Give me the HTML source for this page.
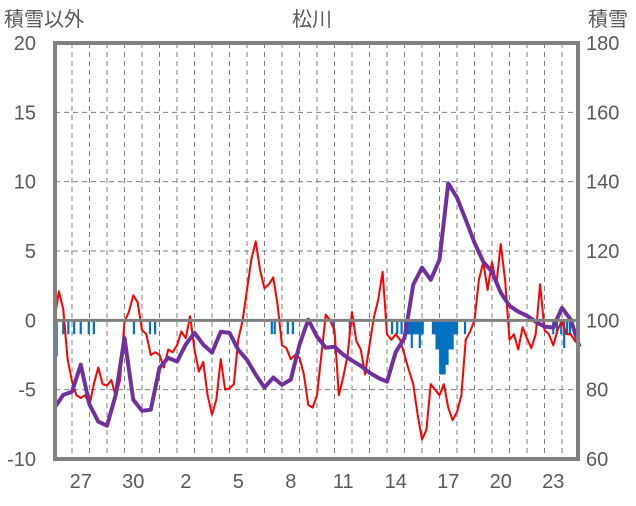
<!DOCTYPE html>
<html><head><meta charset="utf-8"><style>
body{margin:0;background:#fff;}
svg text{font-family:"Liberation Sans","Noto Sans CJK JP",sans-serif;fill:#595959;font-size:20px;}
</style></head><body>
<svg id="chart" width="636" height="501" xmlns="http://www.w3.org/2000/svg">
<text x="4" y="26">積雪以外</text>
<text x="312" y="26" text-anchor="middle">松川</text>
<text x="588" y="26">積雪</text>
<g id="grid"></g>
<g id="bars"></g>
<g id="lines"></g>
<g id="axes"></g>
</svg>
<script>
const xLabels = ["27","30","2","5","8","11","14","17","20","23"];
const xLabelDays = [1.5,4.5,7.5,10.5,13.5,16.5,19.5,22.5,25.5,28.5];
const leftTicks = [20,15,10,5,0,-5,-10];
const rightTicks = [180,160,140,120,100,80,60];
const redValues = [0.0,2.1,0.8,-2.8,-4.4,-5.4,-5.6,-5.4,-6.1,-4.6,-3.4,-4.6,-4.7,-4.3,-5.5,-4.3,-0.1,0.6,1.8,1.3,-0.7,-1.0,-2.5,-2.3,-2.5,-3.4,-2.1,-2.3,-1.8,-0.8,-1.3,0.3,-2.1,-3.7,-3.0,-5.4,-6.8,-5.7,-2.8,-5.0,-4.9,-4.6,-1.4,0.0,2.2,4.4,5.7,3.6,2.3,2.6,3.1,1.1,-1.8,-2.0,-2.8,-2.5,-2.7,-3.9,-6.1,-6.3,-5.4,-2.5,0.4,0.0,-0.7,-5.4,-4.1,-2.5,0.6,-1.5,-2.1,-3.9,-1.8,0.2,1.5,3.5,-1.0,-1.4,-1.0,-1.4,-2.5,-3.6,-4.6,-6.8,-8.6,-7.9,-4.6,-5.0,-5.4,-4.6,-6.3,-7.2,-6.6,-5.4,-1.4,-0.8,0.0,2.9,4.2,2.2,4.2,2.6,5.5,2.9,-1.4,-1.0,-2.1,-0.5,-1.3,-2.0,-1.0,2.6,-0.7,-1.0,-1.8,-0.7,0.0,-1.0,-1.0,-1.5,-1.8];
const redStepDays = 0.25;
const snowDepth = [74.8,78.5,79.4,87.2,75.7,70.8,69.6,78.5,94.9,77.1,73.9,74.2,86.3,89.2,88.1,93.0,96.4,93.0,90.7,96.7,96.4,91.5,88.6,84.3,80.6,83.5,81.4,82.9,93.0,100.2,95.3,92.1,92.4,90.1,88.4,86.9,84.9,83.4,82.3,90.9,94.9,110.3,115.2,111.7,117.5,139.5,135.4,129.0,122.4,116.9,114.0,108.0,104.2,102.5,101.3,99.6,98.2,97.9,103.6,100.2,92.4];
const snowStepDays = 0.5;
const barHours = [3,12,19,27,36,47,54,109,131,138,298,302,320,327,383,405,463,470,476,
481,482,483,484,485,486,487,488,489,490,491,492,493,494,495,496,497,498,499,500,501,502,503,504,505,
519,520,521,522,523,524,525,526,527,528,529,530,531,532,533,534,535,536,537,538,539,540,541,542,543,544,545,546,547,548,549,550,551,552,
563,684,689,695,699,703,707];
const barValues = [-2.6,-1,-1,-1,-1,-1,-1,-1,-1,-1,-1,-1,-1,-1,-1,-1,-1,-1,-1,
-1,-1,-1,-1,-1,-1,-1,-1,-1,-2,-1,-1,-1,-1,-1,-1,-1,-1,-1,-1,-2,-1,-1,-1,-1,
-1,-1,-1,-1,-1,-2.1,-2.1,-2.1,-2.1,-2.1,-3.9,-3.9,-3.9,-3.9,-3.9,-3.9,-3.9,-3.2,-3.2,-3.2,-3.2,-2.1,-2.1,-2.1,-2.1,-2.1,-2.1,-2.1,-1,-1,-1,-1,-1,-1,
-1,-1,-1,-1,-2,-1,-1];

const X0=54.5, DAY=17.5, TOP=43, BOT=459;
const xs = d => X0 + d*DAY;
const yL = v => TOP + (20 - v)*(BOT-TOP)/30;
const yR = v => TOP + (180 - v)*(BOT-TOP)/120;
const NS="http://www.w3.org/2000/svg";
function mk(tag, attrs, parent){const e=document.createElementNS(NS,tag);for(const k in attrs)e.setAttribute(k,attrs[k]);parent.appendChild(e);return e;}
const grid=document.getElementById('grid'), bars=document.getElementById('bars'), lines=document.getElementById('lines'), axes=document.getElementById('axes');

for(let d=1; d<30; d++){
  const l=mk('line',{x1:xs(d),x2:xs(d),y1:TOP,y2:BOT,stroke:'#7f7f7f','stroke-width':1,'stroke-dasharray':'5,4'},grid);
  
  
}
leftTicks.forEach(v=>{
  if(v===0||v===20||v===-10) return;
  const l=mk('line',{x1:55,x2:578,y1:yL(v),y2:yL(v),stroke:'#7f7f7f','stroke-width':1,'stroke-dasharray':'5,4'},grid);
  
  
});
barHours.forEach((h,i)=>{
  const x=xs(h/24), y0=yL(0), y1=yL(barValues[i]);
  const r=mk('rect',{x:x-1.1,y:y0,width:2.2,height:y1-y0,fill:'#0070c0'},bars);
  
  
});
const z=mk('line',{x1:55,x2:578,y1:yL(0),y2:yL(0),stroke:'#808080','stroke-width':3},axes);


const red=mk('polyline',{points:redValues.map((v,i)=>xs(i*redStepDays)+','+yL(v)).join(' '),fill:'none',stroke:'#ff0000','stroke-width':2,'stroke-linejoin':'round'},lines);


const pur=mk('polyline',{points:snowDepth.map((v,i)=>xs(i*snowStepDays)+','+yR(v)).join(' '),fill:'none',stroke:'#7030a0','stroke-width':4,'stroke-linejoin':'round'},lines);


const b=mk('rect',{x:55,y:43,width:523,height:416,fill:'none',stroke:'#808080','stroke-width':4},axes);


leftTicks.forEach(v=>{
  const t=mk('text',{x:36,y:yL(v)+7,'text-anchor':'end'},axes); t.textContent=v;
  
  
});
rightTicks.forEach(v=>{
  const t=mk('text',{x:586,y:yR(v)+7},axes); t.textContent=v;
  
  
});
xLabels.forEach((s,i)=>{
  const t=mk('text',{x:xs(xLabelDays[i]),y:488,'text-anchor':'middle'},axes); t.textContent=s;
  
  
});
</script>
</body></html>
